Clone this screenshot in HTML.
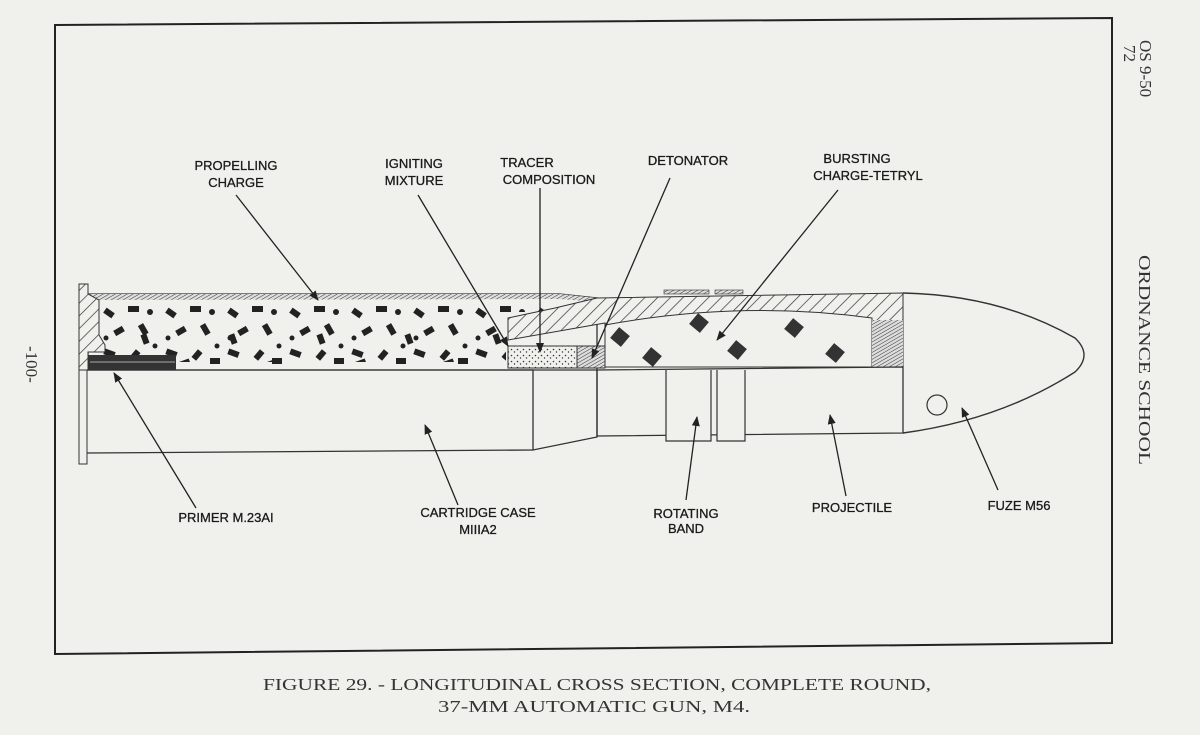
<!DOCTYPE html>
<html><head><meta charset="utf-8"><style>
html,body{margin:0;padding:0;background:#f0f0ec;}
svg{display:block}
.l{font-family:"Liberation Sans",sans-serif;font-size:13px;fill:#1a1a1a;stroke:#1a1a1a;stroke-width:0.3;}
.c{font-family:"Liberation Serif",serif;font-size:17px;fill:#333;}
</style></head><body>
<svg width="1200" height="735" viewBox="0 0 1200 735" xmlns="http://www.w3.org/2000/svg">
<defs>
<marker id="a" markerWidth="10" markerHeight="8" refX="9" refY="4" orient="auto" markerUnits="userSpaceOnUse">
<path d="M0 0 L10 4 L0 8 Z" fill="#222"/></marker>
<pattern id="h" width="9" height="9" patternUnits="userSpaceOnUse" patternTransform="rotate(45)">
<rect width="9" height="9" fill="#f0f0ec"/><line x1="0" y1="0" x2="0" y2="9" stroke="#333" stroke-width="1.4"/></pattern>
<pattern id="hf" width="3" height="3" patternUnits="userSpaceOnUse" patternTransform="rotate(60)">
<rect width="3" height="3" fill="#ddd"/><line x1="0" y1="0" x2="0" y2="3" stroke="#333" stroke-width="1"/></pattern>
<pattern id="dots" width="6" height="6" patternUnits="userSpaceOnUse">
<rect width="6" height="6" fill="#f0f0ec"/><circle cx="1.5" cy="1.5" r="0.8" fill="#333"/><circle cx="4.5" cy="4" r="0.7" fill="#333"/></pattern>
<pattern id="grain" width="62" height="66" patternUnits="userSpaceOnUse" x="100" y="302">
<rect x="4" y="8" width="10" height="6" fill="#222" transform="rotate(35 9 11)"/>
<rect x="28" y="4" width="11" height="6" fill="#222"/>
<circle cx="50" cy="10" r="3" fill="#222"/>
<rect x="14" y="26" width="10" height="6" fill="#222" transform="rotate(-30 19 29)"/>
<rect x="38" y="24" width="11" height="6" fill="#222" transform="rotate(60 43 27)"/>
<circle cx="6" cy="36" r="2.5" fill="#222"/>
<rect x="4" y="48" width="11" height="6" fill="#222" transform="rotate(20 9 51)"/>
<rect x="30" y="50" width="10" height="6" fill="#222" transform="rotate(-50 35 53)"/>
<circle cx="55" cy="44" r="2.5" fill="#222"/>
<rect x="48" y="56" width="10" height="6" fill="#222"/>
</pattern>
<pattern id="grain2" width="88" height="66" patternUnits="userSpaceOnUse" x="120" y="330">
<rect x="20" y="6" width="10" height="6" fill="#222" transform="rotate(70 25 9)"/>
<rect x="60" y="30" width="10" height="6" fill="#222" transform="rotate(-20 65 33)"/>
</pattern>
</defs>
<path d="M55 25 L1112 18 L1112 643 L55 654 Z" fill="none" stroke="#222" stroke-width="2"/>
<path d="M88 294 L560 294 L597 298 L597 370 L88 370 Z" fill="#f0f0ec" stroke="#333" stroke-width="1.3"/>
<path d="M88 294 L560 294 L597 298 L597 302 L560 299 L88 300 Z" fill="url(#hf)"/>
<rect x="100" y="302" width="406" height="66" fill="url(#grain)"/>
<rect x="100" y="302" width="406" height="60" fill="url(#grain2)"/>
<rect x="506" y="302" width="50" height="10" fill="url(#grain)"/>
<path d="M79 284 L88 284 L88 294 L99 300 L99 335 L105 345 L105 352 L88 352 L88 370 L79 370 Z" fill="url(#h)" stroke="#333"/>
<rect x="79" y="370" width="8" height="94" fill="#f0f0ec" stroke="#333"/>
<rect x="88" y="355" width="88" height="15" fill="#333"/>
<line x1="90" y1="362" x2="175" y2="362" stroke="#aaa"/>
<path d="M87 370 L533 370 L533 450 L597 437 L597 370" fill="none" stroke="#333" stroke-width="1.3"/>
<path d="M87 453 L533 450" stroke="#333" stroke-width="1.3"/>
<path d="M508 318 L555 308 L597 298 L903 293 L903 367 L605 367 L605 323 L508 340 Z" fill="url(#h)" stroke="#333"/>
<path d="M605 325 Q740 300 872 318 L872 367 L605 367 Z" fill="#f0f0ec" stroke="#333"/>
<rect x="872" y="320" width="31" height="47" fill="url(#hf)"/>
<rect x="508" y="346" width="69" height="22" fill="url(#dots)" stroke="#333"/>
<rect x="577" y="346" width="28" height="22" fill="url(#hf)" stroke="#333"/>
<rect x="664" y="290" width="45" height="4" fill="url(#hf)" stroke="#333" stroke-width="0.6"/>
<rect x="715" y="290" width="28" height="4" fill="url(#hf)" stroke="#333" stroke-width="0.6"/>
<g fill="#333">
<rect x="613" y="330" width="14" height="14" transform="rotate(40 620 337)"/>
<rect x="645" y="350" width="14" height="14" transform="rotate(40 652 357)"/>
<rect x="692" y="316" width="14" height="14" transform="rotate(40 699 323)"/>
<rect x="730" y="343" width="14" height="14" transform="rotate(40 737 350)"/>
<rect x="787" y="321" width="14" height="14" transform="rotate(40 794 328)"/>
<rect x="828" y="346" width="14" height="14" transform="rotate(40 835 353)"/>
</g>
<path d="M597 370 L903 367 L903 433 L597 436 Z" fill="none" stroke="#333" stroke-width="1.3"/>
<path d="M666 370 L666 441 L711 441 L711 370 M717 370 L717 441 L745 441 L745 370" fill="#f0f0ec" stroke="#333" stroke-width="1.2"/>
<path d="M903 293 Q1000 295 1075 338 Q1093 355 1075 372 Q1000 420 903 433" fill="none" stroke="#333" stroke-width="1.4"/>
<circle cx="937" cy="405" r="10" fill="none" stroke="#333" stroke-width="1.2"/>
<g stroke="#222" stroke-width="1.3" fill="none" marker-end="url(#a)">
<line x1="236" y1="195" x2="318" y2="300"/>
<line x1="418" y1="195" x2="508" y2="346"/>
<line x1="540" y1="188" x2="540" y2="352"/>
<line x1="670" y1="178" x2="592" y2="358"/>
<line x1="838" y1="190" x2="717" y2="340"/>
<line x1="196" y1="508" x2="114" y2="373"/>
<line x1="458" y1="505" x2="425" y2="425"/>
<line x1="686" y1="500" x2="697" y2="417"/>
<line x1="846" y1="496" x2="830" y2="415"/>
<line x1="998" y1="490" x2="962" y2="408"/>
</g>
<g class="l" text-anchor="middle">
<text x="236" y="170">PROPELLING</text><text x="236" y="187">CHARGE</text>
<text x="414" y="168">IGNITING</text><text x="414" y="185">MIXTURE</text>
<text x="527" y="167">TRACER</text><text x="549" y="184">COMPOSITION</text>
<text x="688" y="165">DETONATOR</text>
<text x="857" y="163">BURSTING</text><text x="868" y="180">CHARGE-TETRYL</text>
<text x="226" y="522">PRIMER M.23AI</text>
<text x="478" y="517">CARTRIDGE CASE</text><text x="478" y="534">MIIIA2</text>
<text x="686" y="518">ROTATING</text><text x="686" y="533">BAND</text>
<text x="852" y="512">PROJECTILE</text>
<text x="1019" y="510">FUZE M56</text>
</g>
<g class="c" font-size="16">
<text transform="translate(1140,40) rotate(90)">OS 9-50</text>
<text transform="translate(1124,45) rotate(90)">72</text>
<text transform="translate(1139,255) rotate(90)" textLength="210" lengthAdjust="spacingAndGlyphs">ORDNANCE SCHOOL</text>
<text transform="translate(26,346) rotate(90)">-100-</text>
</g>
<text class="c" x="263" y="690" textLength="668" lengthAdjust="spacingAndGlyphs">FIGURE 29. - LONGITUDINAL CROSS SECTION, COMPLETE ROUND,</text>
<text class="c" x="438" y="712" textLength="312" lengthAdjust="spacingAndGlyphs">37-MM AUTOMATIC GUN, M4.</text>
</svg>
</body></html>
